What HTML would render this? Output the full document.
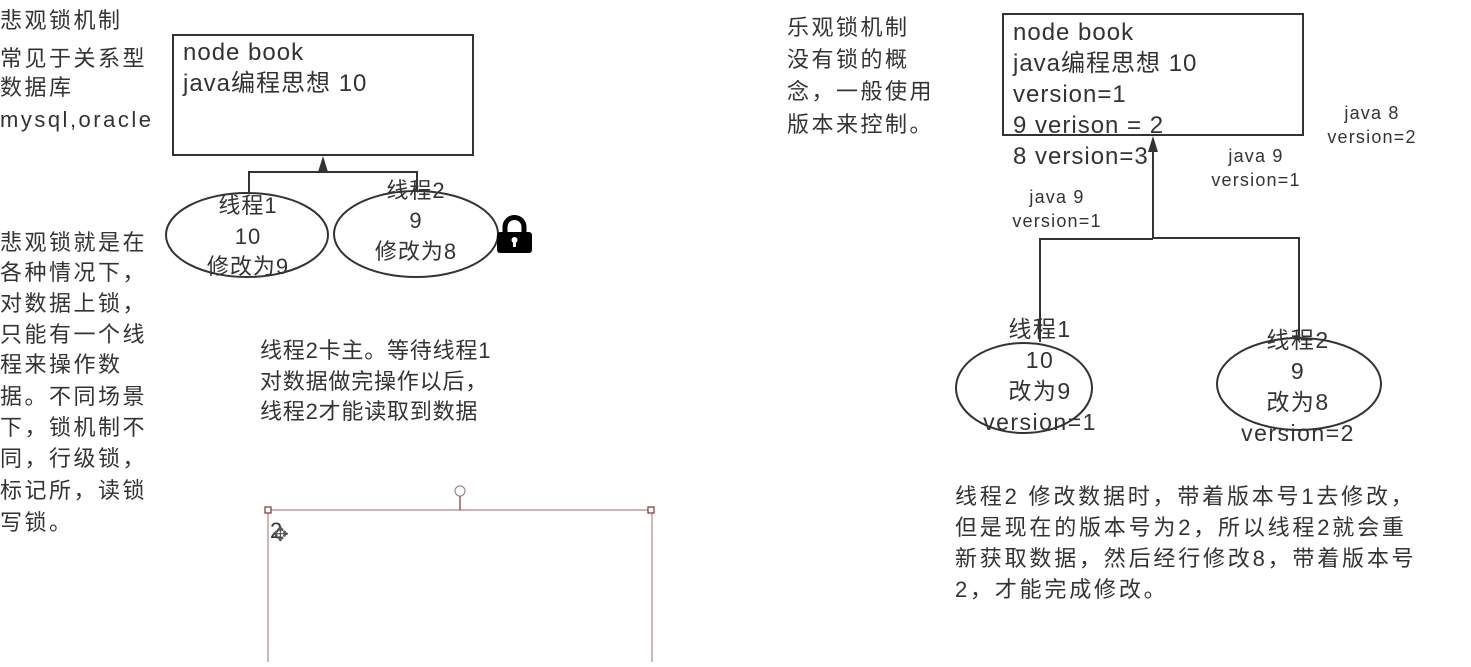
<!DOCTYPE html>
<html><head><meta charset="utf-8"><style>
body{margin:0;background:#fff;width:1471px;height:662px;overflow:hidden}
svg{font-family:"Liberation Sans","Noto Sans CJK SC",sans-serif;fill:#333}
</style></head><body>
<svg width="1471" height="662" viewBox="0 0 1471 662">
<g font-size="22" letter-spacing="2.5" fill="#333">
<text x="0" y="28">悲观锁机制</text>
<text x="0" y="66">常见于关系型</text>
<text x="0" y="95">数据库</text>
<text x="0" y="127">mysql,oracle</text>
<text x="0" y="250">悲观锁就是在</text>
<text x="0" y="280">各种情况下，</text>
<text x="0" y="311">对数据上锁，</text>
<text x="0" y="342">只能有一个线</text>
<text x="0" y="372">程来操作数</text>
<text x="0" y="404">据。不同场景</text>
<text x="0" y="435">下，锁机制不</text>
<text x="0" y="466">同，行级锁，</text>
<text x="0" y="498">标记所，读锁</text>
<text x="0" y="530">写锁。</text>
</g>
<rect x="173" y="35" width="300" height="120" fill="none" stroke="#333" stroke-width="2"/>
<g font-size="24" letter-spacing="1"><text x="183" y="60">node book</text><text x="183" y="91">java编程思想 10</text></g>
<path d="M249 194V172H417V190M323 172V162" fill="none" stroke="#333" stroke-width="2"/>
<path d="M318 172L323 156L328 172Z" fill="#333"/>
<ellipse cx="247" cy="235" rx="81" ry="42" fill="none" stroke="#333" stroke-width="2"/>
<ellipse cx="416" cy="234" rx="82" ry="43" fill="none" stroke="#333" stroke-width="2"/>
<g font-size="22" letter-spacing="1" text-anchor="middle">
<text x="248" y="213">线程1</text><text x="248" y="244">10</text><text x="248" y="274">修改为9</text>
<text x="416" y="198">线程2</text><text x="416" y="228">9</text><text x="416" y="259">修改为8</text>
</g>
<rect x="497" y="232" width="35" height="21" rx="3" fill="#000"/>
<path d="M505 233V227a9.5 9.5 0 0 1 19 0V233" fill="none" stroke="#000" stroke-width="5"/>
<circle cx="514.5" cy="240" r="3" fill="#fff"/><rect x="513" y="240" width="3" height="7" fill="#fff"/>
<g font-size="22" letter-spacing="0.8"><text x="260" y="358">线程2卡主。等待线程1</text><text x="260" y="389">对数据做完操作以后，</text><text x="260" y="419">线程2才能读取到数据</text></g>
<g stroke="#a88" fill="none" stroke-width="1.2">
<path d="M268 510H652M268 510V662M652 510V662"/>
<circle cx="460" cy="491" r="5"/>
<path d="M460 496V510" stroke="#733"/>
<rect x="265" y="507" width="6" height="6" fill="#fff" stroke="#733"/>
<rect x="648" y="507" width="6" height="6" fill="#fff" stroke="#733"/>
</g>
<text x="270" y="538" font-size="22">2</text>
<text x="272" y="541" font-size="20" fill="#555">✥</text>
<g font-size="22" letter-spacing="2.5"><text x="787" y="35">乐观锁机制</text><text x="787" y="67">没有锁的概</text><text x="787" y="99">念，一般使用</text><text x="787" y="132">版本来控制。</text></g>
<rect x="1003" y="14" width="300" height="121" fill="none" stroke="#333" stroke-width="2"/>
<g font-size="24" letter-spacing="1"><text x="1013" y="40">node book</text><text x="1013" y="71">java编程思想 10</text><text x="1013" y="102">version=1</text><text x="1013" y="133">9 verison = 2</text><text x="1013" y="164">8 version=3</text></g>
<path d="M1040 342V239H1153M1153 239V150M1153 238H1299V340" fill="none" stroke="#333" stroke-width="2"/>
<path d="M1148 152L1153 136L1158 152Z" fill="#333"/>
<g font-size="18" letter-spacing="1.2" text-anchor="middle">
<text x="1057" y="203">java 9</text><text x="1057" y="227">version=1</text>
<text x="1256" y="162">java 9</text><text x="1256" y="186">version=1</text>
<text x="1372" y="119">java 8</text><text x="1372" y="143">version=2</text>
</g>
<ellipse cx="1024" cy="388" rx="68" ry="45" fill="none" stroke="#333" stroke-width="2"/>
<ellipse cx="1299" cy="384" rx="82" ry="46" fill="none" stroke="#333" stroke-width="2"/>
<g font-size="23" letter-spacing="1.5" text-anchor="middle">
<text x="1040" y="337">线程1</text><text x="1040" y="368">10</text><text x="1040" y="399">改为9</text><text x="1040" y="430">version=1</text>
<text x="1298" y="348">线程2</text><text x="1298" y="379">9</text><text x="1298" y="410">改为8</text><text x="1298" y="441">version=2</text>
</g>
<g font-size="22" letter-spacing="2.8"><text x="955" y="504">线程2 修改数据时，带着版本号1去修改，</text><text x="955" y="535">但是现在的版本号为2，所以线程2就会重</text><text x="955" y="566">新获取数据，然后经行修改8，带着版本号</text><text x="955" y="597">2，才能完成修改。</text></g>
</svg>
</body></html>
